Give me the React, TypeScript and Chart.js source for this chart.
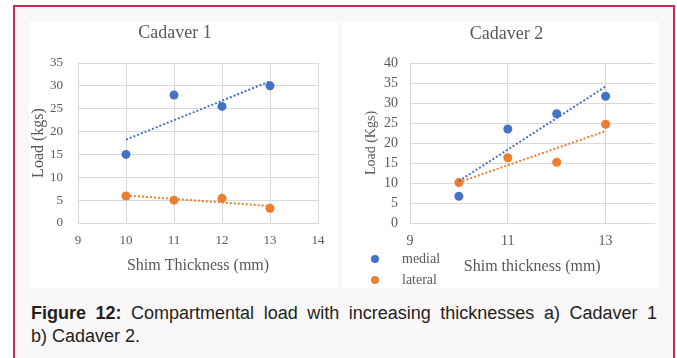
import React, { useEffect, useRef } from 'react';
import { Chart, registerables } from 'chart.js';

Chart.register(...registerables);

// ---------- data ----------
const THICKNESS = [10, 11, 12, 13];
const CAD1_MEDIAL = [15, 28, 25.5, 30];
const CAD1_LATERAL = [5.9, 5.0, 5.4, 3.2];
const CAD2_MEDIAL = [6.7, 23.5, 27.3, 31.7];
const CAD2_LATERAL = [10.1, 16.3, 15.2, 24.7];
const SERIES_NAMES = ['medial', 'lateral'];
const SERIES_COLORS = ['#4472C4', '#ED7D31'];
const CAD1_X_TICKS = [9, 10, 11, 12, 13, 14];
const CAD2_X_TICKS = [9, 11, 13];
const CAD1_Y_MAX = 35;
const CAD2_Y_MAX = 40;
const Y_STEP = 5;

const SERIF = "'Liberation Serif', 'Times New Roman', serif";
const SANS = "'Liberation Sans', Arial, sans-serif";
const TEXT = '#595959';
const GRID = '#d9d9d9';

// least-squares linear trendline over the data points (as the original spreadsheet draws)
function trend(xs: number[], ys: number[]) {
  const n = xs.length;
  const mx = xs.reduce((a, b) => a + b, 0) / n;
  const my = ys.reduce((a, b) => a + b, 0) / n;
  let num = 0;
  let den = 0;
  for (let i = 0; i < n; i++) {
    num += (xs[i] - mx) * (ys[i] - my);
    den += (xs[i] - mx) * (xs[i] - mx);
  }
  const slope = num / den;
  const b = my - slope * mx;
  const x0 = Math.min(...xs);
  const x1 = Math.max(...xs);
  return [
    { x: x0, y: slope * x0 + b },
    { x: x1, y: slope * x1 + b },
  ];
}

type Spec = {
  title: string;
  yTitle: string;
  xTitle: string;
  medial: number[];
  lateral: number[];
  yMax: number;
  xTicks: number[];
  padLeft: number;
  padRight: number;
  yWidth: number;
  yTitlePad: number;
  yTitleSize: number;
  tickSize: number;
  yTickPad: number;
  xTickPad: number;
  xTitlePad: number;
  titlePadTop: number;
  titlePadBottom: number;
};

function buildConfig(s: Spec): any {
  const pts = (ys: number[]) => THICKNESS.map((x, i) => ({ x, y: ys[i] }));
  const trendDs = (ys: number[], color: string) => ({
    data: trend(THICKNESS, ys),
    showLine: true,
    borderColor: color,
    backgroundColor: color,
    borderWidth: 2,
    borderDash: [2, 2],
    pointRadius: 0,
  });
  const pointDs = (ys: number[], color: string, label: string) => ({
    label,
    data: pts(ys),
    backgroundColor: color,
    borderColor: color,
    borderWidth: 0,
    pointRadius: 4.5,
    showLine: false,
  });
  return {
    type: 'scatter',
    data: {
      datasets: [
        trendDs(s.medial, SERIES_COLORS[0]),
        trendDs(s.lateral, SERIES_COLORS[1]),
        pointDs(s.medial, SERIES_COLORS[0], SERIES_NAMES[0]),
        pointDs(s.lateral, SERIES_COLORS[1], SERIES_NAMES[1]),
      ],
    },
    options: {
      animation: false,
      responsive: false,
      devicePixelRatio: 1,
      events: [],
      layout: { padding: { left: s.padLeft, right: s.padRight, top: 0, bottom: 0 } },
      plugins: {
        legend: { display: false },
        tooltip: { enabled: false },
        title: {
          display: true,
          text: s.title,
          color: TEXT,
          font: { family: SERIF, size: 18, weight: 'normal' },
          padding: { top: s.titlePadTop, bottom: s.titlePadBottom },
        },
      },
      scales: {
        x: {
          type: 'linear',
          min: s.xTicks[0],
          max: 14,
          afterBuildTicks: (scale: any) => {
            scale.ticks = s.xTicks.map((v) => ({ value: v }));
          },
          afterFit: (scale: any) => {
            scale.height = 65;
          },
          grid: { color: GRID, drawTicks: false },
          border: { color: GRID },
          ticks: {
            color: TEXT,
            font: { family: SERIF, size: s.tickSize },
            padding: s.xTickPad,
            maxRotation: 0,
          },
          title: {
            display: true,
            text: s.xTitle,
            color: TEXT,
            font: { family: SERIF, size: 16 },
            padding: { top: 0, bottom: s.xTitlePad },
          },
        },
        y: {
          type: 'linear',
          min: 0,
          max: s.yMax,
          afterFit: (scale: any) => {
            scale.width = s.yWidth;
          },
          grid: { color: GRID, drawTicks: false },
          border: { color: GRID },
          ticks: {
            stepSize: Y_STEP,
            color: TEXT,
            font: { family: SERIF, size: s.tickSize },
            padding: s.yTickPad,
          },
          title: {
            display: true,
            text: s.yTitle,
            color: TEXT,
            font: { family: SERIF, size: s.yTitleSize },
            padding: { top: s.yTitlePad, bottom: 0 },
          },
        },
      },
    },
  };
}

function ChartBox({ spec, left, top, width, height }: { spec: Spec; left: number; top: number; width: number; height: number }) {
  const ref = useRef<HTMLCanvasElement | null>(null);
  useEffect(() => {
    if (!ref.current) return;
    const chart = new Chart(ref.current, buildConfig(spec));
    return () => chart.destroy();
  }, []);
  return (
    <canvas
      ref={ref}
      width={width}
      height={height}
      style={{ position: 'absolute', left, top, width, height }}
    />
  );
}

const SPEC1: Spec = {
  title: 'Cadaver 1',
  yTitle: 'Load (kgs)',
  xTitle: 'Shim Thickness (mm)',
  medial: CAD1_MEDIAL,
  lateral: CAD1_LATERAL,
  yMax: CAD1_Y_MAX,
  xTicks: CAD1_X_TICKS,
  padLeft: 3,
  padRight: 20,
  yWidth: 46,
  yTitlePad: -3,
  yTitleSize: 16,
  tickSize: 13,
  yTickPad: 15,
  xTickPad: 10,
  xTitlePad: 13,
  titlePadTop: 0,
  titlePadBottom: 19.4,
};

const SPEC2: Spec = {
  title: 'Cadaver 2',
  yTitle: 'Load (Kgs)',
  xTitle: 'Shim thickness (mm)',
  medial: CAD2_MEDIAL,
  lateral: CAD2_LATERAL,
  yMax: CAD2_Y_MAX,
  xTicks: CAD2_X_TICKS,
  padLeft: 12,
  padRight: 0,
  yWidth: 56,
  yTitlePad: 9,
  yTitleSize: 14,
  tickSize: 14,
  yTickPad: 12,
  xTickPad: 10,
  xTitlePad: 12,
  titlePadTop: 1,
  titlePadBottom: 18.4,
};

export default function App() {
  return (
    <div
      style={{
        position: 'absolute',
        left: 0,
        top: 0,
        width: 677,
        height: 358,
        overflow: 'hidden',
        background: '#ffffff',
      }}
    >
      <div
        style={{
          position: 'absolute',
          left: 13,
          top: 5,
          width: 658,
          height: 380,
          border: '2px solid #c92b55',
          background: '#f9f7f8',
        }}
      />
      <div style={{ position: 'absolute', left: 29, top: 22, width: 309, height: 266, background: '#ffffff' }} />
      <div style={{ position: 'absolute', left: 342, top: 22, width: 317, height: 266, background: '#ffffff' }} />
      <ChartBox spec={SPEC1} left={29} top={22} width={309} height={266} />
      <ChartBox spec={SPEC2} left={342} top={22} width={317} height={266} />
      {SERIES_NAMES.map((name, i) => (
        <div
          key={name}
          style={{
            position: 'absolute',
            left: 368,
            top: 249 + i * 20.5,
            height: 20,
            display: 'flex',
            alignItems: 'center',
            fontFamily: SERIF,
            fontSize: 14,
            color: TEXT,
          }}
        >
          <span
            style={{
              display: 'inline-block',
              width: 8,
              height: 8,
              borderRadius: '50%',
              background: SERIES_COLORS[i],
              marginLeft: 3,
              marginRight: 23,
            }}
          />
          <span>{name}</span>
        </div>
      ))}
      <div
        style={{
          position: 'absolute',
          left: 31,
          top: 302,
          width: 626,
          fontFamily: SANS,
          fontSize: 18,
          lineHeight: '23px',
          color: '#231f20',
        }}
      >
        <div style={{ textAlign: 'justify', textAlignLast: 'justify', whiteSpace: 'nowrap' as any }}>
          <b>Figure 12:</b> Compartmental load with increasing thicknesses a) Cadaver 1
        </div>
        <div>b) Cadaver 2.</div>
      </div>
    </div>
  );
}
